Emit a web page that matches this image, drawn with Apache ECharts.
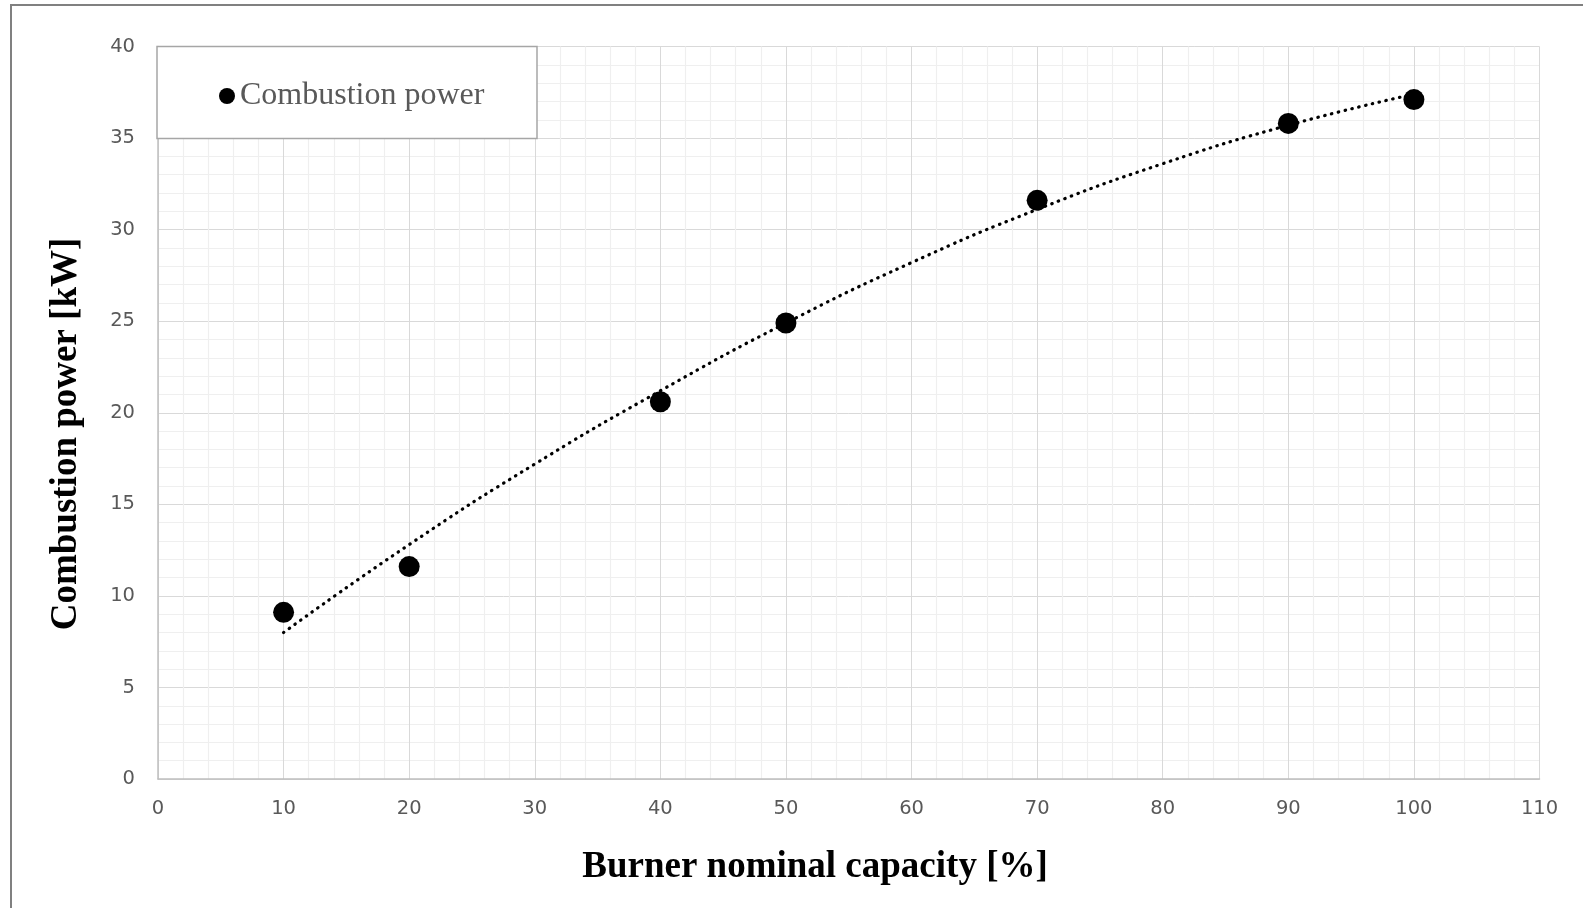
<!DOCTYPE html>
<html>
<head>
<meta charset="utf-8">
<script src="https://cdn.jsdelivr.net/npm/echarts@6/dist/echarts.min.js"></script>
<style>
html,body{margin:0;padding:0;background:#fff;}
#chart{width:1583px;height:908px;}
</style>
</head>
<body>
<div id="chart"></div>
<script>
// Measured data
const capacity = [10, 20, 40, 50, 70, 90, 100];
const power = [9.1, 11.6, 20.6, 24.9, 31.6, 35.8, 37.1];
// Trendline values
const trendX = [10, 20, 30, 40, 50, 60, 70, 80, 90, 100];
const trendY = [8.0, 12.8, 17.2, 21.2, 24.9, 28.2, 31.1, 33.6, 35.7, 37.4];
const seriesName = 'Combustion power';
const xTitle = 'Burner nominal capacity [%]';
const yTitle = 'Combustion power [kW]';

const chart = echarts.init(document.getElementById('chart'), null, {renderer: 'canvas'});
const tickFont = {fontFamily: 'DejaVu Sans', fontSize: 19.5, color: '#595959'};

chart.setOption({
  animation: false,
  backgroundColor: '#ffffff',
  grid: {left: 158, right: 43.5, top: 46.5, bottom: 129, containLabel: false},
  xAxis: {
    type: 'value', min: 0, max: 110, interval: 10,
    axisLine: {show: true, lineStyle: {color: '#bfbfbf', width: 1.5}},
    axisTick: {show: false},
    axisLabel: Object.assign({margin: 20}, tickFont),
    splitLine: {show: true, lineStyle: {color: '#d9d9d9', width: 1}},
    minorTick: {show: false, splitNumber: 5},
    minorSplitLine: {show: true, lineStyle: {color: '#efefef', width: 1.2}}
  },
  yAxis: {
    type: 'value', min: 0, max: 40, interval: 5,
    axisLine: {show: true, lineStyle: {color: '#bfbfbf', width: 1.5}},
    axisTick: {show: false},
    axisLabel: Object.assign({margin: 23}, tickFont),
    splitLine: {show: true, lineStyle: {color: '#d9d9d9', width: 1}},
    minorTick: {show: false, splitNumber: 5},
    minorSplitLine: {show: true, lineStyle: {color: '#efefef', width: 1.2}}
  },
  legend: {
    show: true, data: [seriesName], left: 219, top: 80, z: 20,
    icon: 'circle', itemWidth: 16, itemHeight: 16, padding: 0,
    textStyle: {fontFamily: 'Liberation Serif', fontSize: 32, color: '#595959'}
  },
  graphic: [
    {type: 'rect', z: 100, silent: true,
     shape: {x: 11, y: 5, width: 1700, height: 1000},
     style: {fill: 'none', stroke: '#808080', lineWidth: 2}},
    {type: 'rect', z: 10, silent: true,
     shape: {x: 157, y: 46.5, width: 380, height: 92},
     style: {fill: '#ffffff', stroke: '#a6a6a6', lineWidth: 1.5}},
    {type: 'text', z: 10, silent: true, x: 66, y: 434, rotation: Math.PI / 2,
     style: {text: yTitle, fontFamily: 'Liberation Serif', fontWeight: 'bold', fontSize: 37,
             fill: '#000', align: 'center', verticalAlign: 'middle'}},
    {type: 'text', z: 10, silent: true, x: 815, y: 867,
     style: {text: xTitle, fontFamily: 'Liberation Serif', fontWeight: 'bold', fontSize: 37,
             fill: '#000', align: 'center', verticalAlign: 'middle'}}
  ],
  series: [
    {
      name: 'Trend', type: 'line', smooth: true, showSymbol: false, z: 2,
      data: trendX.map((x, i) => [x, trendY[i]]),
      lineStyle: {color: '#000', width: 3.2, type: [0.5, 6.5], cap: 'round'},
      tooltip: {show: false}
    },
    {
      name: seriesName, type: 'scatter', z: 3,
      symbol: 'circle', symbolSize: 21,
      data: capacity.map((x, i) => [x, power[i]]),
      itemStyle: {color: '#000', opacity: 1}
    }
  ]
});
</script>
</body>
</html>
